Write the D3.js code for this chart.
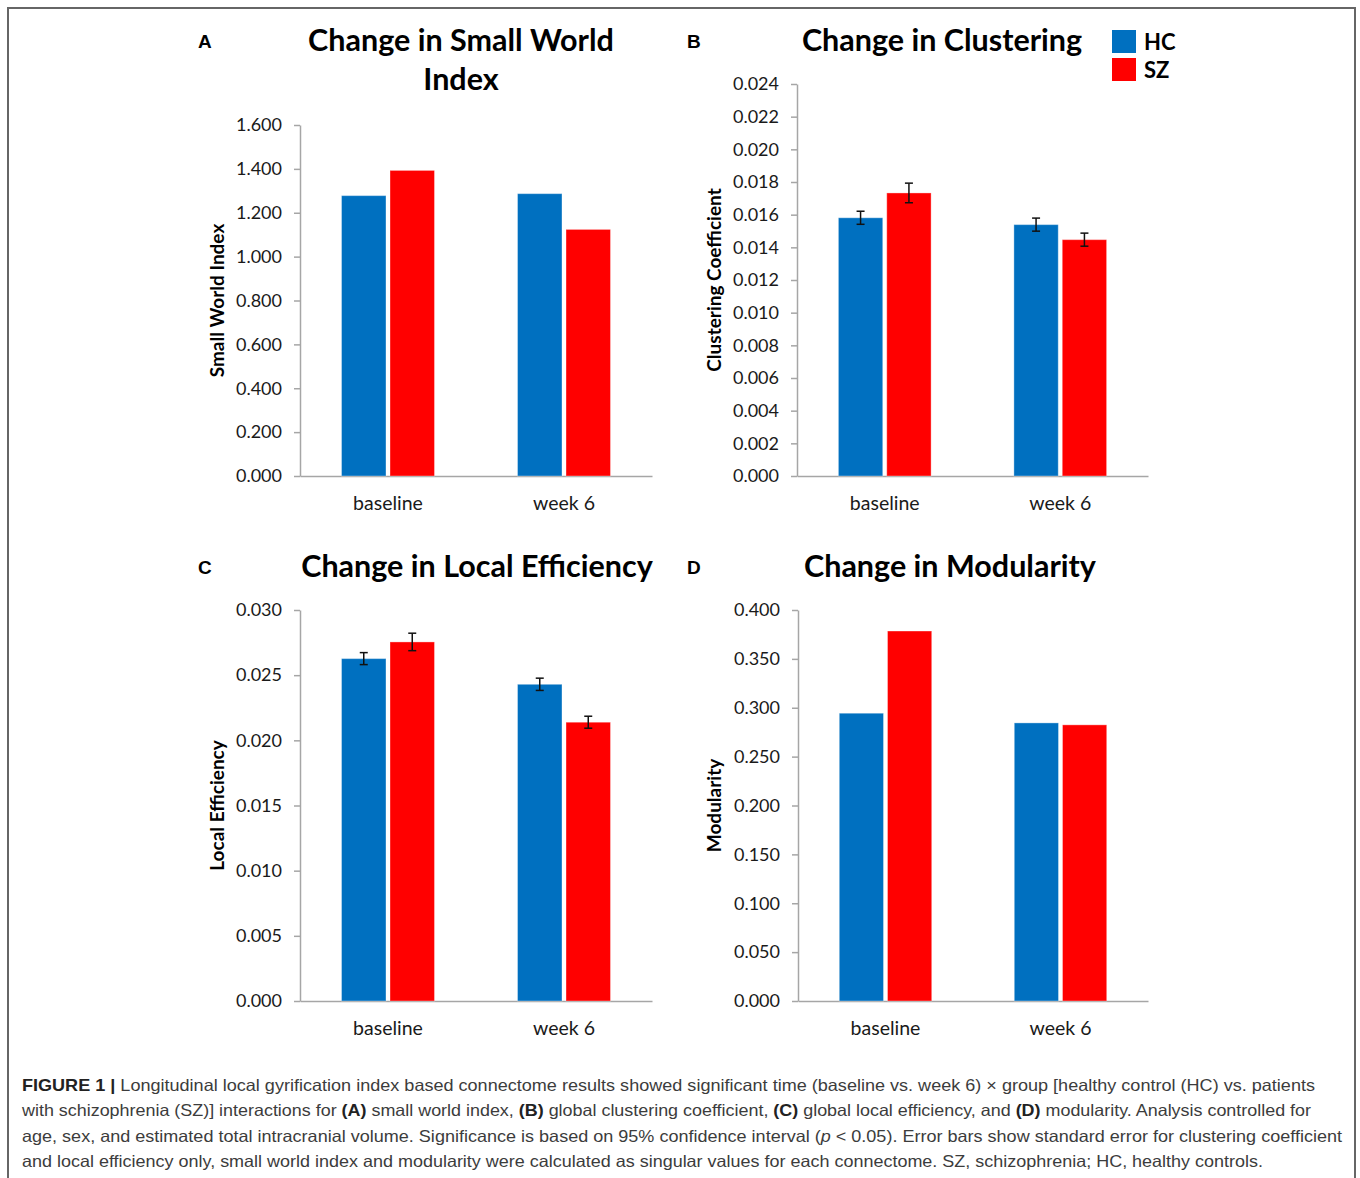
<!DOCTYPE html>
<html>
<head>
<meta charset="utf-8">
<script src="https://cdn.jsdelivr.net/npm/d3@7"></script>
<style>
  body { margin: 0; background: #fff; }
  svg { display: block; }
</style>
</head>
<body>
<svg id="fig" width="1360" height="1178"></svg>
<script>
// values
const categories = ['baseline', 'week 6'];
const groups = ['HC', 'SZ'];
const group_colors = ['#0070c0', '#ff0000'];

const swi_hc = [1.278, 1.287];
const swi_sz = [1.393, 1.124];
const swi_ticks = [0, 0.2, 0.4, 0.6, 0.8, 1.0, 1.2, 1.4, 1.6];

const clu_hc = [0.01581, 0.01539];
const clu_sz = [0.01733, 0.01447];
const clu_hc_err = [0.0004, 0.0004];
const clu_sz_err = [0.0006, 0.0004];
const clu_ticks = [0, 0.002, 0.004, 0.006, 0.008, 0.010, 0.012, 0.014, 0.016, 0.018, 0.020, 0.022, 0.024];

const leff_hc = [0.02627, 0.0243];
const leff_sz = [0.02755, 0.02139];
const leff_hc_err = [0.00046, 0.00047];
const leff_sz_err = [0.00067, 0.00046];
const leff_ticks = [0, 0.005, 0.010, 0.015, 0.020, 0.025, 0.030];

const mod_hc = [0.2944, 0.2845];
const mod_sz = [0.3785, 0.2825];
const mod_ticks = [0, 0.05, 0.1, 0.15, 0.2, 0.25, 0.3, 0.35, 0.4];

const caption_lines = [
    [['FIGURE 1 | ', 'b'], ['Longitudinal local gyrification index based connectome results showed significant time (baseline vs. week 6) × group [healthy control (HC) vs. patients', '']],
    [['with schizophrenia (SZ)] interactions for ', ''], ['(A)', 'b'], [' small world index, ', ''], ['(B)', 'b'], [' global clustering coefficient, ', ''], ['(C)', 'b'], [' global local efficiency, and ', ''], ['(D)', 'b'], [' modularity. Analysis controlled for', '']],
    [['age, sex, and estimated total intracranial volume. Significance is based on 95% confidence interval (', ''], ['p', 'i'], [' < 0.05). Error bars show standard error for clustering coefficient', '']],
    [['and local efficiency only, small world index and modularity were calculated as singular values for each connectome. SZ, schizophrenia; HC, healthy controls.', '']]
];
const caption_ends = [1315, 1311, 1342, 1263];

const svg = d3.select('#fig');

svg.append('rect')
    .attr('x', 8).attr('y', 8)
    .attr('width', 1347).attr('height', 1200)
    .attr('fill', 'none')
    .attr('stroke', '#666')
    .attr('stroke-width', 2);

class BarPanel {
    constructor (config) {
        this.config = config;
        this.init();
    }

    init() {
        let self = this;
        const c = self.config;
        const g = svg.append('g');

        self.xscale = d3.scaleBand()
            .domain(categories)
            .range([c.x0, c.x1]);

        self.subscale = d3.scaleBand()
            .domain(groups)
            .range([0, self.xscale.bandwidth()])
            .paddingInner(0.083)
            .paddingOuter(0.856);

        self.yscale = d3.scaleLinear()
            .domain([0, c.ymax])
            .range([c.y0, c.y1]);

        // y axis
        const yaxis = d3.axisLeft(self.yscale)
            .tickValues(c.ticks)
            .tickFormat(d3.format('.3f'))
            .tickSize(6)
            .tickPadding(12)
            .tickSizeOuter(0);

        const ag = g.append('g')
            .attr('transform', `translate(${c.x0}, 0)`)
            .call(yaxis);
        ag.select('.domain').attr('stroke', '#a6a6a6').attr('stroke-width', 1.5);
        ag.selectAll('.tick line').attr('stroke', '#a6a6a6').attr('stroke-width', 1.5);
        ag.selectAll('.tick text')
            .attr('font-family', 'Lato, sans-serif')
            .attr('font-size', 18)
            .attr('fill', '#1a1a1a');

        // x axis
        const xaxis = d3.axisBottom(self.xscale)
            .tickSize(0)
            .tickPadding(20);
        const xg = g.append('g')
            .attr('transform', `translate(0, ${c.y0})`)
            .call(xaxis);
        xg.select('.domain').attr('stroke', '#a6a6a6').attr('stroke-width', 1.5);
        xg.selectAll('.tick text')
            .attr('font-family', 'Lato, sans-serif')
            .attr('font-size', 19.5)
            .attr('fill', '#1a1a1a');

        // bars
        const rows = [];
        categories.forEach((cat, i) => {
            groups.forEach((grp, j) => {
                rows.push({
                    cat: cat, grp: grp, color: group_colors[j],
                    value: c.series[j][i],
                    err: c.errors ? c.errors[j][i] : null
                });
            });
        });

        g.selectAll('rect.bar')
            .data(rows)
            .join('rect')
            .attr('class', 'bar')
            .attr('x', d => self.xscale(d.cat) + self.subscale(d.grp))
            .attr('y', d => self.yscale(d.value))
            .attr('width', self.subscale.bandwidth())
            .attr('height', d => c.y0 - self.yscale(d.value))
            .attr('fill', d => d.color)
            .attr('stroke', 'rgba(255,255,255,0.35)')
            .attr('stroke-width', 1);

        // error bars
        if (c.errors) {
            const cap = 4;
            const eg = g.selectAll('g.err')
                .data(rows)
                .join('g')
                .attr('class', 'err')
                .attr('stroke', '#111')
                .attr('stroke-width', 1.5);
            const cx = d => self.xscale(d.cat) + self.subscale(d.grp) + self.subscale.bandwidth() / 2;
            eg.append('line')
                .attr('x1', cx).attr('x2', cx)
                .attr('y1', d => self.yscale(d.value + d.err))
                .attr('y2', d => self.yscale(d.value - d.err));
            eg.append('line')
                .attr('x1', d => cx(d) - cap).attr('x2', d => cx(d) + cap)
                .attr('y1', d => self.yscale(d.value + d.err))
                .attr('y2', d => self.yscale(d.value + d.err));
            eg.append('line')
                .attr('x1', d => cx(d) - cap).attr('x2', d => cx(d) + cap)
                .attr('y1', d => self.yscale(d.value - d.err))
                .attr('y2', d => self.yscale(d.value - d.err));
        }

        // titles
        c.title.forEach((t, i) => {
            g.append('text')
                .attr('x', c.title_x)
                .attr('y', c.title_y + i * 39)
                .attr('text-anchor', 'middle')
                .attr('font-family', 'Lato, sans-serif')
                .attr('font-weight', 'bold')
                .attr('font-size', 30.5)
                .attr('fill', '#000')
                .text(t);
        });

        g.append('text')
            .attr('x', c.letter_x)
            .attr('y', c.title_y - 3)
            .attr('font-family', 'Liberation Sans, Arial, sans-serif')
            .attr('font-weight', 'bold')
            .attr('font-size', 19)
            .text(c.letter);

        g.append('text')
            .attr('transform', `translate(${c.ylabel_x}, ${(c.y0 + c.y1) / 2}) rotate(-90)`)
            .attr('text-anchor', 'middle')
            .attr('font-family', 'Lato, sans-serif')
            .attr('font-weight', 'bold')
            .attr('font-size', 19)
            .attr('fill', '#000')
            .text(c.ylabel);
    }
}

new BarPanel({
    x0: 300, x1: 652, y0: 476, y1: 125, ymax: 1.6, ticks: swi_ticks,
    series: [swi_hc, swi_sz], errors: null,
    title: ['Change in Small World', 'Index'], title_x: 461, title_y: 51,
    letter: 'A', letter_x: 198, ylabel: 'Small World Index', ylabel_x: 224
});

new BarPanel({
    x0: 797, x1: 1148, y0: 476, y1: 84, ymax: 0.024, ticks: clu_ticks,
    series: [clu_hc, clu_sz], errors: [clu_hc_err, clu_sz_err],
    title: ['Change in Clustering'], title_x: 942, title_y: 51,
    letter: 'B', letter_x: 687, ylabel: 'Clustering Coefficient', ylabel_x: 721
});

new BarPanel({
    x0: 300, x1: 652, y0: 1001, y1: 610, ymax: 0.030, ticks: leff_ticks,
    series: [leff_hc, leff_sz], errors: [leff_hc_err, leff_sz_err],
    title: ['Change in Local Efficiency'], title_x: 477, title_y: 577,
    letter: 'C', letter_x: 198, ylabel: 'Local Efficiency', ylabel_x: 224
});

new BarPanel({
    x0: 798, x1: 1148, y0: 1001, y1: 610, ymax: 0.4, ticks: mod_ticks,
    series: [mod_hc, mod_sz], errors: null,
    title: ['Change in Modularity'], title_x: 950, title_y: 577,
    letter: 'D', letter_x: 687, ylabel: 'Modularity', ylabel_x: 721
});

// legend
const legend = svg.append('g').attr('transform', 'translate(1112, 30)');
groups.forEach((grp, i) => {
    legend.append('rect')
        .attr('x', 0).attr('y', i * 28)
        .attr('width', 24).attr('height', 23)
        .attr('fill', group_colors[i]);
    legend.append('text')
        .attr('x', 32).attr('y', i * 28 + 20)
        .attr('font-family', 'Lato, sans-serif')
        .attr('font-weight', 'bold')
        .attr('font-size', 22)
        .text(grp);
});

// caption
caption_lines.forEach((parts, i) => {
    const t = svg.append('text')
        .attr('x', 22)
        .attr('y', 1091 + i * 25.3)
        .attr('font-family', 'Liberation Sans, Arial, sans-serif')
        .attr('font-size', 16.5)
        .attr('fill', '#3c3c3c')
        .attr('textLength', caption_ends[i] - 22)
        .attr('lengthAdjust', 'spacingAndGlyphs');
    parts.forEach(p => {
        const s = t.append('tspan').text(p[0]);
        if (p[1] === 'b') s.attr('font-weight', 'bold').attr('fill', '#222');
        if (p[1] === 'i') s.attr('font-style', 'italic');
    });
});
</script>
</body>
</html>
